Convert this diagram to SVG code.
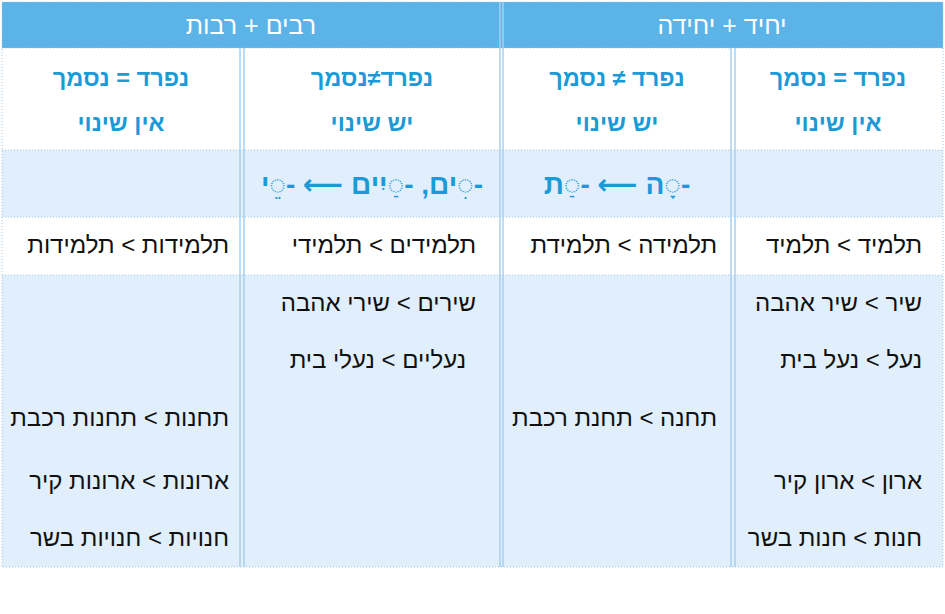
<svg xmlns="http://www.w3.org/2000/svg" width="945" height="614" viewBox="0 0 945 614">
<style>
text{font-family:"Liberation Sans","DejaVu Sans",sans-serif;font-size:24px;direction:rtl}
.h{fill:#fff;text-anchor:middle;font-size:25px}
.s{fill:#1a9ad6;font-weight:bold;text-anchor:middle;font-size:23.5px}
.p{fill:#1a9ad6;font-weight:bold;text-anchor:middle;font-size:28px}
.b{fill:#111;text-anchor:start}
.dl{stroke:#9cc8e8;stroke-width:1;stroke-dasharray:1,2;fill:none}
.vl{stroke:#a8d0f0;stroke-width:1.5;fill:none}
</style>
<rect width="945" height="614" fill="#fff"/>
<g id="bg">
<rect x="2" y="2" width="941" height="46" fill="#5cb3e8"/>
<rect x="2" y="150" width="941" height="67" fill="#e0effb"/>
<rect x="2" y="275" width="941" height="292" fill="#e0effb"/>
</g>
<g id="grid">
<path class="dl" d="M2,2H943V567H2Z M2,48H943 M2,150H943 M2,217H943 M2,275H943"/>
<path class="vl" d="M240,48V567 M244,48V567 M731,48V567 M735,48V567 M500,2V567 M503,2V567"/>
</g>
<g id="hdr-right"><text class="h" x="722" y="34">יחיד + יחידה</text></g>
<g id="hdr-left"><text class="h" x="251" y="34">רבים + רבות</text></g>
<g id="col4">
<text class="s" x="838" y="86">נפרד = נסמך</text>
<text class="s" x="838" y="131">אין שינוי</text>
<text class="b" x="922" y="253">תלמיד &gt; תלמיד</text>
<text class="b" x="922" y="311">שיר &gt; שיר אהבה</text>
<text class="b" x="922" y="368">נעל &gt; נעל בית</text>
<text class="b" x="922" y="489">ארון &gt; ארון קיר</text>
<text class="b" x="922" y="546">חנות &gt; חנות בשר</text>
</g>
<g id="col3">
<text class="s" x="617" y="86">נפרד ≠ נסמך</text>
<text class="s" x="617" y="131">יש שינוי</text>
<text class="p" x="617" y="194">-◌ָה ⟵ -◌ַת</text>
<text class="b" x="717" y="253">תלמידה &gt; תלמידת</text>
<text class="b" x="717" y="426">תחנה &gt; תחנת רכבת</text>
</g>
<g id="col2">
<text class="s" x="372" y="86">נפרד≠נסמך</text>
<text class="s" x="372" y="131">יש שינוי</text>
<text class="p" x="372" y="194">-◌ִים, -◌ַיִים ⟵ -◌ֵי</text>
<text class="b" x="476" y="253">תלמידים &gt; תלמידי</text>
<text class="b" x="476" y="311">שירים &gt; שירי אהבה</text>
<text class="b" x="466" y="368">נעליים &gt; נעלי בית</text>
</g>
<g id="col1">
<text class="s" x="121" y="86">נפרד = נסמך</text>
<text class="s" x="121" y="131">אין שינוי</text>
<text class="b" x="229" y="253">תלמידות &gt; תלמידות</text>
<text class="b" x="229" y="426">תחנות &gt; תחנות רכבת</text>
<text class="b" x="229" y="489">ארונות &gt; ארונות קיר</text>
<text class="b" x="229" y="546">חנויות &gt; חנויות בשר</text>
</g>
</svg>
